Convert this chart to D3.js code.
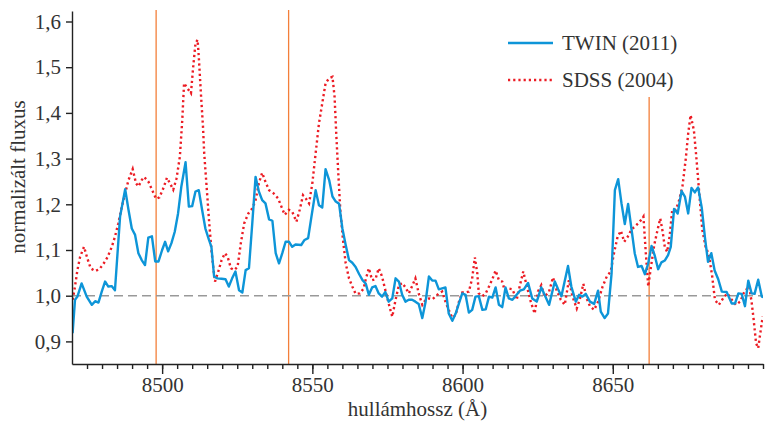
<!DOCTYPE html>
<html>
<head>
<meta charset="utf-8">
<script src="https://cdn.jsdelivr.net/npm/d3@7"></script>
<style>
  body { margin: 0; background: #fff; }
  svg text { font-family: "Liberation Serif", "Times New Roman", serif !important; }
  .axis path, .axis line { stroke: #222; stroke-width: 1.4; }
  .axis text { font-size: 21px; fill: #333; }
</style>
</head>
<body>
<div class="spectrum"></div>
<script>
const WIDTH = 766;
const HEIGHT = 421;
const LEFT = 72, RIGHT = 763, TOP = 11, BOTTOM = 364;

// TWIN (2011) spectrum
var twinWave = [8470.2, 8471.0, 8471.8, 8473.2, 8474.9, 8476.6, 8477.7, 8478.8, 8479.9, 8481.0,
  8482.1, 8483.2, 8484.3, 8486.0, 8487.7, 8488.8, 8489.9, 8491.0, 8492.1, 8493.2,
  8494.3, 8495.4, 8496.6, 8497.7, 8498.8, 8500.0, 8501.0, 8502.0, 8503.1, 8504.2,
  8505.3, 8506.4, 8507.8, 8508.9, 8510.0, 8511.1, 8512.2, 8513.3, 8514.4, 8515.6,
  8516.4, 8517.3, 8518.4, 8519.8, 8521.1, 8522.2, 8523.3, 8524.4, 8525.6, 8526.7,
  8527.8, 8528.9, 8530.0, 8531.1, 8532.2, 8533.3, 8534.4, 8535.6, 8536.7, 8537.8,
  8538.9, 8540.0, 8541.1, 8542.2, 8543.3, 8544.4, 8546.3, 8547.4, 8548.6, 8549.7,
  8551.1, 8552.2, 8553.3, 8554.4, 8555.6, 8556.7, 8557.8, 8558.9, 8560.0, 8561.1,
  8562.2, 8563.3, 8564.4, 8565.6, 8566.7, 8567.8, 8568.8, 8569.9, 8571.0, 8572.1,
  8573.2, 8574.3, 8575.4, 8576.6, 8577.7, 8578.8, 8579.9, 8581.0, 8582.1, 8583.2,
  8584.3, 8585.4, 8586.6, 8587.7, 8588.8, 8589.9, 8591.0, 8592.1, 8593.2, 8594.3,
  8595.4, 8596.6, 8597.7, 8598.8, 8599.9, 8601.0, 8602.1, 8603.2, 8604.3, 8605.4,
  8606.6, 8607.7, 8608.8, 8609.9, 8611.0, 8612.1, 8613.2, 8614.3, 8615.4, 8616.6,
  8618.0, 8619.1, 8620.4, 8621.8, 8623.2, 8624.7, 8626.2, 8627.3, 8628.8, 8630.7,
  8631.8, 8632.9, 8635.1, 8636.2, 8637.7, 8638.8, 8639.9, 8641.0, 8642.4, 8643.8,
  8645.1, 8646.0, 8647.3, 8648.4, 8649.6, 8650.7, 8651.8, 8652.9, 8654.0, 8655.1,
  8656.2, 8657.3, 8658.4, 8659.6, 8660.7, 8661.8, 8662.9, 8664.0, 8665.1, 8666.2,
  8667.3, 8668.4, 8669.3, 8670.4, 8671.6, 8672.9, 8674.0, 8675.1, 8676.2, 8677.3,
  8678.4, 8679.6, 8680.7, 8681.7, 8682.8, 8683.9, 8685.1, 8686.3, 8687.9, 8689.6,
  8690.7, 8691.8, 8692.9, 8694.0, 8695.1, 8696.2, 8697.2, 8698.4, 8699.6, 8700.4];
var twinFlux = [0.918, 0.991, 0.998, 1.027, 0.998, 0.980, 0.988, 0.985, 1.009, 1.031,
  1.020, 1.021, 1.012, 1.173, 1.233, 1.188, 1.147, 1.133, 1.093, 1.078,
  1.067, 1.127, 1.130, 1.075, 1.075, 1.100, 1.118, 1.097, 1.115, 1.140,
  1.180, 1.239, 1.292, 1.195, 1.196, 1.228, 1.231, 1.188, 1.147, 1.122,
  1.107, 1.042, 1.038, 1.037, 1.036, 1.020, 1.038, 1.053, 1.012, 1.007,
  1.056, 1.060, 1.158, 1.260, 1.228, 1.209, 1.202, 1.167, 1.164, 1.093,
  1.071, 1.093, 1.118, 1.118, 1.107, 1.112, 1.111, 1.122, 1.126, 1.173,
  1.231, 1.198, 1.193, 1.277, 1.253, 1.217, 1.206, 1.201, 1.147, 1.111,
  1.078, 1.072, 1.063, 1.047, 1.034, 1.026, 1.002, 1.018, 1.021, 1.005,
  0.998, 1.008, 0.987, 0.994, 1.038, 1.031, 1.002, 0.987, 0.991, 0.991,
  0.987, 0.982, 0.951, 0.987, 1.042, 1.033, 1.033, 1.014, 1.016, 1.018,
  0.961, 0.945, 0.961, 0.983, 1.005, 1.002, 0.963, 0.969, 0.998, 0.999,
  0.969, 0.970, 0.998, 0.996, 1.018, 0.980, 0.975, 1.018, 0.994, 0.991,
  1.002, 1.011, 1.014, 1.028, 0.994, 0.987, 1.018, 1.002, 0.980, 1.031,
  1.014, 0.999, 1.065, 1.020, 0.987, 1.002, 0.998, 1.004, 0.987, 0.982,
  1.011, 0.965, 0.951, 0.961, 1.049, 1.231, 1.255, 1.202, 1.157, 1.201,
  1.147, 1.093, 1.063, 1.065, 1.047, 1.071, 1.109, 1.087, 1.058, 1.073,
  1.077, 1.089, 1.107, 1.190, 1.180, 1.229, 1.217, 1.180, 1.236, 1.226,
  1.237, 1.193, 1.126, 1.074, 1.093, 1.055, 1.036, 1.009, 1.008, 0.983,
  0.983, 1.005, 1.004, 0.977, 1.033, 1.005, 1.004, 1.035, 0.998, 0.996];

// SDSS (2004) spectrum
var sdssWave = [8470.2, 8471.0, 8471.8, 8472.7, 8474.0, 8475.1, 8476.2, 8477.7, 8479.1, 8480.4,
  8481.8, 8483.2, 8484.3, 8485.4, 8486.6, 8487.7, 8488.8, 8490.2, 8491.3, 8492.1,
  8493.2, 8494.0, 8495.4, 8496.9, 8498.0, 8499.1, 8500.4, 8501.6, 8502.7, 8503.7,
  8504.8, 8505.9, 8506.7, 8507.3, 8508.4, 8509.6, 8510.3, 8511.1, 8511.8, 8512.2,
  8512.9, 8513.6, 8514.0, 8514.8, 8515.6, 8516.4, 8517.0, 8517.6, 8518.7, 8519.8,
  8520.9, 8521.8, 8522.9, 8524.0, 8525.1, 8526.2, 8527.3, 8528.7, 8530.0, 8531.1,
  8532.2, 8533.3, 8534.4, 8535.6, 8537.1, 8538.6, 8539.7, 8540.8, 8542.2, 8543.3,
  8544.7, 8545.8, 8546.9, 8547.8, 8548.9, 8550.0, 8551.1, 8552.2, 8553.3, 8554.4,
  8555.6, 8556.7, 8557.4, 8558.0, 8558.7, 8559.3, 8560.2, 8561.1, 8562.2, 8563.3,
  8564.4, 8565.8, 8567.1, 8567.7, 8568.8, 8569.9, 8571.0, 8572.1, 8573.2, 8574.3,
  8575.4, 8576.6, 8577.7, 8578.8, 8579.9, 8581.0, 8582.1, 8583.2, 8584.3, 8585.4,
  8586.6, 8587.7, 8588.8, 8589.9, 8591.0, 8592.1, 8593.2, 8594.3, 8595.4, 8596.6,
  8597.7, 8598.8, 8599.9, 8601.0, 8602.1, 8603.2, 8604.1, 8604.9, 8605.4, 8606.6,
  8607.7, 8608.8, 8609.9, 8611.0, 8612.1, 8613.2, 8614.0, 8615.1, 8616.6, 8618.0,
  8619.1, 8620.2, 8621.3, 8622.7, 8624.0, 8625.1, 8626.2, 8627.3, 8628.8, 8630.1,
  8631.3, 8632.7, 8634.0, 8635.4, 8636.6, 8638.0, 8639.1, 8640.2, 8641.3, 8642.4,
  8643.8, 8645.1, 8646.6, 8648.0, 8649.3, 8650.4, 8651.6, 8652.7, 8653.8, 8654.9,
  8656.2, 8657.3, 8658.4, 8659.6, 8660.2, 8661.0, 8661.8, 8662.7, 8663.8, 8664.9,
  8665.8, 8666.6, 8667.3, 8668.1, 8668.9, 8669.8, 8671.0, 8672.1, 8673.2, 8674.3,
  8675.1, 8675.9, 8677.0, 8677.8, 8678.7, 8679.8, 8680.9, 8682.0, 8683.1, 8684.0,
  8685.3, 8687.1, 8688.2, 8689.6, 8691.0, 8692.4, 8693.8, 8695.4, 8696.2, 8696.9,
  8697.7, 8698.4, 8699.1, 8699.9];
var sdssFlux = [0.991, 1.020, 1.056, 1.085, 1.107, 1.082, 1.060, 1.054, 1.058, 1.069,
  1.084, 1.106, 1.129, 1.158, 1.195, 1.224, 1.253, 1.277, 1.246, 1.239,
  1.253, 1.260, 1.250, 1.228, 1.212, 1.215, 1.235, 1.258, 1.245, 1.232,
  1.257, 1.304, 1.384, 1.465, 1.454, 1.443, 1.498, 1.552, 1.560, 1.523,
  1.443, 1.370, 1.312, 1.239, 1.166, 1.100, 1.063, 1.031, 1.053, 1.078,
  1.093, 1.085, 1.060, 1.056, 1.063, 1.115, 1.158, 1.180, 1.191, 1.209,
  1.246, 1.269, 1.249, 1.231, 1.224, 1.213, 1.195, 1.177, 1.188, 1.184,
  1.162, 1.188, 1.220, 1.213, 1.202, 1.246, 1.312, 1.377, 1.421, 1.465,
  1.476, 1.479, 1.435, 1.348, 1.260, 1.188, 1.122, 1.071, 1.038, 1.020,
  1.004, 1.005, 1.016, 1.034, 1.060, 1.034, 1.036, 1.060, 1.042, 1.012,
  0.983, 0.954, 0.991, 1.023, 1.028, 1.018, 1.005, 1.021, 1.038, 1.005,
  0.980, 0.991, 0.994, 0.992, 0.998, 1.005, 1.009, 0.987, 0.969, 0.951,
  0.958, 0.987, 1.007, 1.007, 1.009, 1.038, 1.084, 1.049, 1.005, 0.999,
  1.005, 1.020, 1.036, 1.055, 1.034, 1.031, 1.012, 1.016, 1.014, 0.991,
  1.023, 1.053, 1.023, 0.987, 0.961, 1.009, 1.023, 0.998, 1.009, 1.040,
  1.012, 0.991, 0.980, 1.034, 0.998, 0.972, 0.994, 1.026, 0.994, 0.977,
  0.969, 0.987, 1.020, 1.042, 1.053, 1.093, 1.129, 1.142, 1.118, 1.128,
  1.145, 1.151, 1.158, 1.167, 1.173, 1.093, 1.020, 1.063, 1.111, 1.144,
  1.169, 1.140, 1.107, 1.096, 1.129, 1.188, 1.188, 1.209, 1.240, 1.300,
  1.355, 1.395, 1.362, 1.304, 1.231, 1.144, 1.107, 1.089, 1.042, 0.991,
  0.980, 0.998, 1.005, 0.991, 0.980, 0.987, 1.009, 1.020, 0.987, 0.947,
  0.896, 0.885, 0.918, 0.954];

// Ca II triplet markers (wavelength, top flux)
var caLines = [8498.0, 8542.1, 8662.1];
var caTops = [1.625, 1.625, 1.435];

var xMajorTicks = [8500, 8550, 8600, 8650];
var xMinorTicks = d3.range(8475, 8701, 5);
var yTicks = [0.9, 1.0, 1.1, 1.2, 1.3, 1.4, 1.5, 1.6];
var seriesNames = ['TWIN (2011)', 'SDSS (2004)'];

function toPoints(xs, ys) {
    return xs.map(function (x, i) {
        return {x: x, y: ys[i]};
    });
}

var xScale = d3.scaleLinear().domain([8470, 8700]).range([LEFT, RIGHT]);
var yScale = d3.scaleLinear().domain([1.0, 1.1]).range([295.7, 250]);
var yBottom = yScale.invert(BOTTOM);
var yTop = yScale.invert(TOP);
yScale.domain([yBottom, yTop]).range([BOTTOM, TOP]);

var line = d3.line()
    .x(function (d) { return xScale(d.x); })
    .y(function (d) { return yScale(d.y); });

var svg = d3.select('.spectrum').append('svg')
    .attr('width', WIDTH)
    .attr('height', HEIGHT);

svg.append('clipPath').attr('id', 'plot')
    .append('rect')
    .attr('x', LEFT).attr('y', TOP)
    .attr('width', RIGHT - LEFT).attr('height', BOTTOM - TOP);

// vertical Ca II lines
svg.append('g').selectAll('line')
    .data(caLines)
    .enter().append('line')
    .attr('x1', function (d) { return xScale(d); })
    .attr('x2', function (d) { return xScale(d); })
    .attr('y1', function (d, i) { return yScale(caTops[i]); })
    .attr('y2', yScale(yBottom))
    .attr('stroke', '#f37f3a')
    .attr('stroke-width', 1.3);

// continuum level
svg.append('line')
    .attr('x1', xScale(8470)).attr('x2', xScale(8700))
    .attr('y1', yScale(1)).attr('y2', yScale(1))
    .attr('stroke', '#999')
    .attr('stroke-width', 1.4)
    .attr('stroke-dasharray', '9,5');

var plot = svg.append('g').attr('clip-path', 'url(#plot)');

plot.append('path')
    .attr('d', line(toPoints(sdssWave, sdssFlux)))
    .attr('fill', 'none')
    .attr('stroke', '#ec1c24')
    .attr('stroke-width', 2.4)
    .attr('stroke-dasharray', '2.2,3');

plot.append('path')
    .attr('d', line(toPoints(twinWave, twinFlux)))
    .attr('fill', 'none')
    .attr('stroke', '#0d95d8')
    .attr('stroke-width', 2.4)
    .attr('stroke-linejoin', 'round');

// axes
var yAxis = d3.axisLeft(yScale).tickValues(yTicks).tickSize(6).tickSizeOuter(0)
    .tickPadding(5)
    .tickFormat(function (d) { return d3.format('.1f')(d).replace('.', ','); });
svg.append('g').attr('class', 'axis')
    .attr('transform', 'translate(' + LEFT + ',0)')
    .call(yAxis);

var xMinor = d3.axisBottom(xScale).tickValues(xMinorTicks).tickSize(5).tickSizeOuter(0)
    .tickFormat('');
svg.append('g').attr('class', 'axis')
    .attr('transform', 'translate(0,' + BOTTOM + ')')
    .call(xMinor);

var xAxis = d3.axisBottom(xScale).tickValues(xMajorTicks).tickSize(10).tickSizeOuter(0)
    .tickPadding(3)
    .tickFormat(d3.format('d'));
svg.append('g').attr('class', 'axis')
    .attr('transform', 'translate(0,' + BOTTOM + ')')
    .call(xAxis)
    .select('.domain').remove();

svg.append('text')
    .attr('x', (LEFT + RIGHT) / 2)
    .attr('y', 416)
    .attr('text-anchor', 'middle')
    .attr('font-size', 21)
    .attr('fill', '#333')
    .text('hullámhossz (Å)');

svg.append('text')
    .attr('transform', 'translate(25,177) rotate(-90)')
    .attr('text-anchor', 'middle')
    .attr('font-size', 21)
    .attr('fill', '#333')
    .text('normalizált fluxus');

// legend
var legend = svg.append('g').attr('transform', 'translate(508,43)');
var legendStyles = [
    {stroke: '#0d95d8', dash: null},
    {stroke: '#ec1c24', dash: '2.2,3'}
];
seriesNames.forEach(function (name, i) {
    var row = legend.append('g').attr('transform', 'translate(0,' + (i * 37) + ')');
    row.append('line')
        .attr('x1', 0).attr('x2', 45)
        .attr('stroke', legendStyles[i].stroke)
        .attr('stroke-width', 2.4)
        .attr('stroke-dasharray', legendStyles[i].dash);
    row.append('text')
        .attr('x', 54)
        .attr('dy', '0.35em')
        .attr('font-size', 21)
        .attr('fill', '#333')
        .text(name);
});
</script>
</body>
</html>
